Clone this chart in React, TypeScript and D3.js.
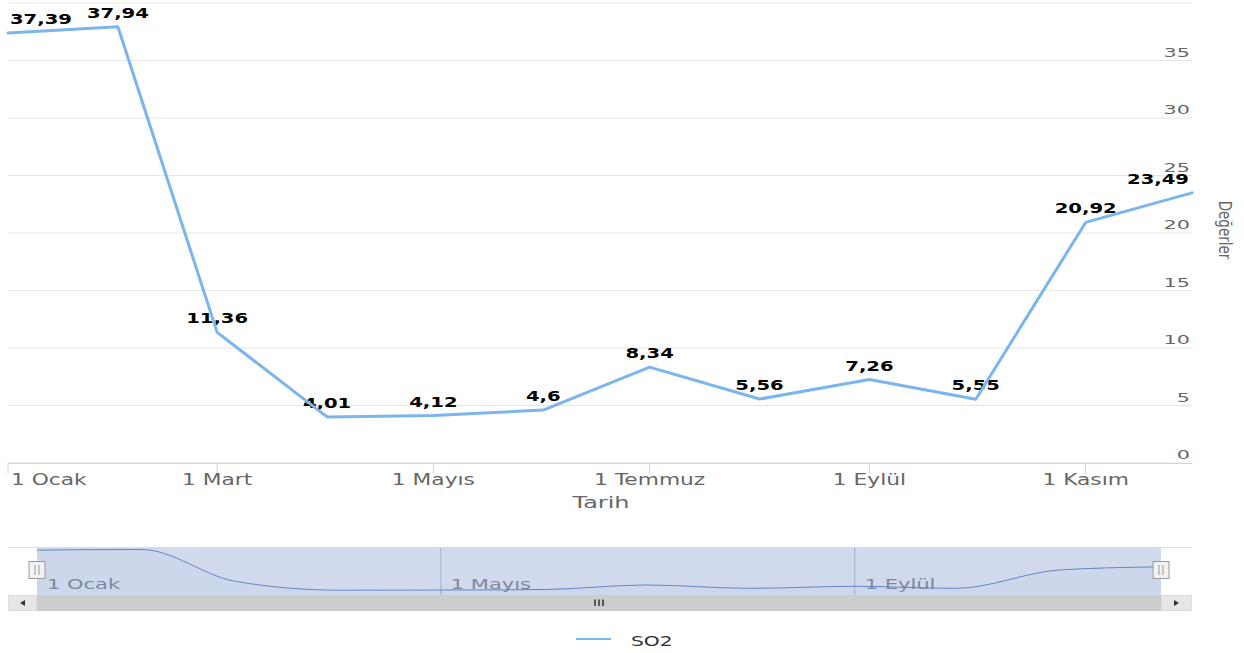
import * as d3 from 'd3';

const monthDates = [
  '2019-01-01', '2019-02-01', '2019-03-01', '2019-04-01', '2019-05-01', '2019-06-01',
  '2019-07-01', '2019-08-01', '2019-09-01', '2019-10-01', '2019-11-01', '2019-12-01',
];
const so2Values = [37.39, 37.94, 11.36, 4.01, 4.12, 4.6, 8.34, 5.56, 7.26, 5.55, 20.92, 23.49];

const xTickDates = ['2019-01-01', '2019-03-01', '2019-05-01', '2019-07-01', '2019-09-01', '2019-11-01'];
const xTickLabels = ['1 Ocak', '1 Mart', '1 Mayıs', '1 Temmuz', '1 Eylül', '1 Kasım'];
const yGridValues = [0, 5, 10, 15, 20, 25, 30, 35, 40];
const yTickLabels = ['0', '5', '10', '15', '20', '25', '30', '35'];
const navTickDates = ['2019-01-01', '2019-05-01', '2019-09-01'];
const navTickLabels = ['1 Ocak', '1 Mayıs', '1 Eylül'];

const seriesName = 'SO2';
const xTitle = 'Tarih';
const yTitle = 'Değerler';

const font = '"DejaVu Sans", sans-serif';
const lineColor = '#7cb5ec';

const toDate = (s: string) => new Date(s + 'T00:00:00Z');
const dates = monthDates.map(toDate);

// stretched text, matches the wide look of the reference
function SText({ x, y, sx = 1.45, anchor = 'start', size, fill = '#666', weight = 'normal', children }: any) {
  return (
    <text
      transform={`translate(${x},${y}) scale(${sx},1)`}
      textAnchor={anchor}
      fontSize={size}
      fontFamily={font}
      fontWeight={weight}
      fill={fill}
    >
      {children}
    </text>
  );
}

export default function App() {
  const W = 1244;
  const H = 653;
  const plot = { left: 8, right: 1192, top: 3, bottom: 463 };
  const nav = { left: 37, right: 1161, top: 547, bottom: 595 };

  const x = d3.scaleUtc().domain([dates[0], dates[dates.length - 1]]).range([plot.left, plot.right]);
  const y = d3.scaleLinear().domain([0, 40]).range([plot.bottom, plot.top]);
  const nx = d3.scaleUtc().domain([dates[0], dates[dates.length - 1]]).range([nav.left, nav.right]);
  const ny = d3.scaleLinear().domain([0, 40]).range([nav.bottom, nav.top]);

  const line = d3
    .line<number>()
    .x((_, i) => x(dates[i]))
    .y((d) => y(d));

  const navLine = d3
    .line<number>()
    .curve(d3.curveMonotoneX)
    .x((_, i) => nx(dates[i]))
    .y((d) => ny(d));
  const navArea = d3
    .area<number>()
    .curve(d3.curveMonotoneX)
    .x((_, i) => nx(dates[i]))
    .y0(nav.bottom)
    .y1((d) => ny(d));

  const labelSize = 14;
  const labelSx = 1.4;
  const labelWidth = (s: string) =>
    s.split('').reduce((w, c) => w + (c === ',' ? 0.38 : 0.696), 0) * labelSize * labelSx;

  const scrollY = 595;
  const scrollH = 16;

  return (
    <svg
      width={W}
      height={H}
      style={{ position: 'absolute', left: 0, top: 0, background: '#fff' }}
    >
      {/* grid */}
      {yGridValues.map((v) => (
        <line key={v} x1={plot.left} x2={plot.right} y1={y(v)} y2={y(v)} stroke="#e6e6e6" strokeWidth={1} />
      ))}
      {yTickLabels.map((t, i) => (
        <SText key={t} x={1190} y={y(yGridValues[i]) - 4} anchor="end" size={13} sx={1.6}>
          {t}
        </SText>
      ))}
      <text
        transform={`translate(1219,230) rotate(90) scale(0.75,1)`}
        textAnchor="middle"
        fontSize={18}
        fontFamily={font}
        fill="#666"
      >
        {yTitle}
      </text>

      {/* x axis */}
      <line x1={plot.left} x2={plot.right} y1={plot.bottom + 0.5} y2={plot.bottom + 0.5} stroke="#ccd6eb" />
      {xTickDates.map((d, i) => {
        const px = x(toDate(d));
        return (
          <g key={d}>
            <line x1={px} x2={px} y1={plot.bottom} y2={plot.bottom + 11} stroke="#ccd6eb" />
            <SText x={i === 0 ? plot.left + 3 : px} y={485} anchor={i === 0 ? 'start' : 'middle'} size={15}>
              {xTickLabels[i]}
            </SText>
          </g>
        );
      })}
      <SText x={601} y={508} anchor="middle" size={16} sx={1.5}>
        {xTitle}
      </SText>

      {/* data labels */}
      {so2Values.map((v, i) => {
        const s = String(v).replace('.', ',');
        const px = x(dates[i]);
        const w = labelWidth(s);
        let anchor = 'middle';
        let lx = px;
        if (px - w / 2 < plot.left) {
          anchor = 'start';
          lx = plot.left + 2;
        } else if (px + w / 2 > plot.right) {
          anchor = 'end';
          lx = plot.right - 3;
        }
        return (
          <SText key={i} x={lx} y={y(v) - 9} anchor={anchor} size={labelSize} sx={labelSx} weight="bold" fill="#000">
            {s}
          </SText>
        );
      })}

      {/* series */}
      <path d={line(so2Values) ?? ''} fill="none" stroke={lineColor} strokeWidth={3} strokeLinejoin="round" strokeLinecap="round" />

      {/* navigator */}
      <line x1={plot.left} x2={plot.right} y1={nav.top + 0.5} y2={nav.top + 0.5} stroke="#dcdcdc" />
      {navTickDates.map((d, i) => {
        const px = nx(toDate(d));
        return (
          <g key={d}>
            {i > 0 && <line x1={px} x2={px} y1={nav.top} y2={nav.bottom} stroke="#b8c2d6" />}
            <SText x={px + 10} y={589} size={14} sx={1.5} fill="#888">
              {navTickLabels[i]}
            </SText>
          </g>
        );
      })}
      <rect x={nav.left} y={nav.top + 1} width={nav.right - nav.left} height={nav.bottom - nav.top - 1} fill="rgba(102,133,194,0.3)" />
      <path d={navArea(so2Values) ?? ''} fill="rgba(124,181,236,0.05)" stroke="none" />
      <path d={navLine(so2Values) ?? ''} fill="none" stroke="#6685c2" strokeWidth={1} />
      {[nav.left, nav.right].map((hx) => (
        <g key={hx}>
          <rect x={hx - 8} y={561.5} width={16} height={17} fill="#f2f2f2" stroke="#999" />
          <line x1={hx - 2} x2={hx - 2} y1={565} y2={575} stroke="#999" />
          <line x1={hx + 2} x2={hx + 2} y1={565} y2={575} stroke="#999" />
        </g>
      ))}

      {/* scrollbar */}
      <rect x={plot.left} y={scrollY} width={plot.right - plot.left} height={scrollH} fill="#f2f2f2" />
      <rect x={nav.left} y={scrollY} width={nav.right - nav.left} height={scrollH} fill="#cccccc" />
      <rect x={plot.left + 0.5} y={scrollY + 0.5} width={nav.left - plot.left - 1} height={scrollH - 1} fill="#e6e6e6" stroke="#dcdcdc" />
      <rect x={nav.right + 0.5} y={scrollY + 0.5} width={plot.right - nav.right - 1} height={scrollH - 1} fill="#e6e6e6" stroke="#dcdcdc" />
      <path d={`M${plot.left + 17},${scrollY + 5} L${plot.left + 17},${scrollY + 11} L${plot.left + 12},${scrollY + 8} Z`} fill="#333" />
      <path d={`M${nav.right + 13},${scrollY + 5} L${nav.right + 13},${scrollY + 11} L${nav.right + 18},${scrollY + 8} Z`} fill="#333" />
      {[-4, 0, 4].map((o) => {
        const cx = (nav.left + nav.right) / 2 + o;
        return <line key={o} x1={cx} x2={cx} y1={scrollY + 4.5} y2={scrollY + 11} stroke="#333" strokeWidth={1.5} />;
      })}

      {/* legend */}
      <line x1={576} x2={611} y1={639} y2={639} stroke={lineColor} strokeWidth={2} />
      <SText x={631} y={646} size={14} fill="#333">
        {seriesName}
      </SText>
    </svg>
  );
}
